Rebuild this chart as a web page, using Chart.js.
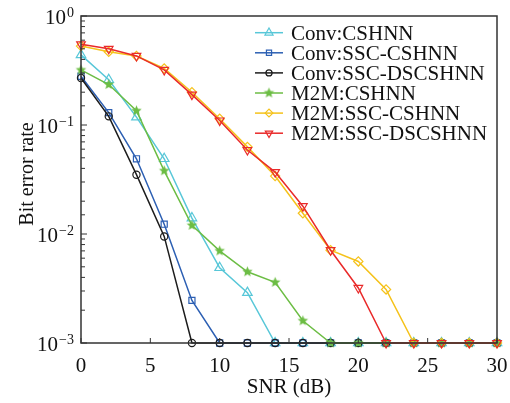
<!DOCTYPE html>
<html>
<head>
<meta charset="utf-8">
<script src="https://cdn.jsdelivr.net/npm/chart.js@4/dist/chart.umd.min.js"></script>
<style>
  html, body { margin: 0; padding: 0; background: #fff; }
  #wrap { width: 510px; height: 403px; }
  #probe { font-family: "Liberation Serif"; position: absolute; left: -999px; }
</style>
</head>
<body>
<div id="probe">10 SNR</div>
<div id="wrap"><canvas id="ber"></canvas></div>
<script>
// SNR (dB) points
const snr = [0, 2, 4, 6, 8, 10, 12, 14, 16, 18, 20, 22, 24, 26, 28, 30];

const convCshnn      = [0.44, 0.26, 0.118, 0.049, 0.014, 0.0049, 0.0029, 0.001, 0.001, 0.001, 0.001, 0.001, 0.001, 0.001, 0.001, 0.001];
const convSscCshnn   = [0.28, 0.13, 0.049, 0.0123, 0.00246, 0.001, 0.001, 0.001, 0.001, 0.001, 0.001, 0.001, 0.001, 0.001, 0.001, 0.001];
const convSscDscshnn = [0.27, 0.12, 0.035, 0.0095, 0.001, 0.001, 0.001, 0.001, 0.001, 0.001, 0.001, 0.001, 0.001, 0.001, 0.001, 0.001];
const m2mCshnn       = [0.32, 0.235, 0.135, 0.038, 0.012, 0.007, 0.0045, 0.0036, 0.0016, 0.001, 0.001, 0.001, 0.001, 0.001, 0.001, 0.001];
const m2mSscCshnn    = [0.53, 0.47, 0.43, 0.33, 0.2, 0.114, 0.063, 0.034, 0.0155, 0.0071, 0.0056, 0.0031, 0.001, 0.001, 0.001, 0.001];
const m2mSscDscshnn  = [0.55, 0.5, 0.43, 0.32, 0.19, 0.11, 0.059, 0.037, 0.018, 0.0071, 0.0032, 0.001, 0.001, 0.001, 0.001, 0.001];

const xTicks = [0, 5, 10, 15, 20, 25, 30];
const yTicks = [0, -1, -2, -3];   // exponents of 10

const FONT = '"Liberation Serif", serif';
const AXIS = '#333';

// filled star marker for the M2M:CSHNN curve
const makeStar = (color, r) => {
  const c = document.createElement('canvas');
  const s = Math.ceil(r * 2 + 2);
  c.width = s; c.height = s;
  const g = c.getContext('2d');
  g.beginPath();
  for (let i = 0; i < 10; i++) {
    const a = -Math.PI / 2 + i * Math.PI / 5;
    const rr = i % 2 === 0 ? r : r * 0.45;
    g.lineTo(s / 2 + rr * Math.cos(a), s / 2 + rr * Math.sin(a));
  }
  g.closePath();
  g.fillStyle = color;
  g.fill();
  return c;
};

const series = [
  { label: 'Conv:CSHNN',         data: convCshnn,      color: '#58c7d8', style: 'triangle', radius: 5.5, rotation: 0 },
  { label: 'Conv:SSC-CSHNN',     data: convSscCshnn,   color: '#2c5fb3', style: 'rect',     radius: 4.3, rotation: 0 },
  { label: 'Conv:SSC-DSCSHNN',   data: convSscDscshnn, color: '#1c1c1c', style: 'circle',   radius: 3.6, rotation: 0 },
  { label: 'M2M:CSHNN',          data: m2mCshnn,       color: '#6cbd44', style: makeStar('#6cbd44', 5.5), radius: 5, rotation: 0 },
  { label: 'M2M:SSC-CSHNN',      data: m2mSscCshnn,    color: '#f5c21b', style: 'rectRot',  radius: 4.6, rotation: 0 },
  { label: 'M2M:SSC-DSCSHNN',    data: m2mSscDscshnn,  color: '#e92a2a', style: 'triangle', radius: 5,   rotation: 180 }
];

const datasets = series.map((s, i) => ({
  label: s.label,
  data: snr.map((x, j) => ({ x, y: s.data[j] })),
  borderColor: s.color,
  borderWidth: 1.5,
  pointStyle: s.style,
  pointRadius: s.radius,
  pointRotation: s.rotation,
  pointBorderColor: s.color,
  pointBackgroundColor: 'rgba(0,0,0,0)',
  pointBorderWidth: 1.2,
  tension: 0,
  clip: false,
  order: series.length - i   // later curves on top
}));

const framePlugin = {
  id: 'frame',
  afterDraw(chart) {
    const { ctx, chartArea: a, scales: { x, y } } = chart;
    ctx.save();
    ctx.strokeStyle = AXIS;
    ctx.lineWidth = 1.5;
    ctx.strokeRect(a.left, a.top, a.right - a.left, a.bottom - a.top);

    // inward ticks
    ctx.lineWidth = 1;
    ctx.beginPath();
    xTicks.forEach(v => {
      const px = x.getPixelForValue(v);
      ctx.moveTo(px, a.bottom); ctx.lineTo(px, a.bottom - 5);
    });
    y.ticks.forEach(t => {
      const py = y.getPixelForValue(t.value);
      const m = t.value / Math.pow(10, Math.floor(Math.log10(t.value) + 1e-9));
      const len = Math.abs(m - 1) < 1e-6 ? 6 : 4;
      ctx.moveTo(a.left, py); ctx.lineTo(a.left + len, py);
    });
    ctx.stroke();

    // tick labels
    ctx.fillStyle = '#111';
    ctx.font = '21px ' + FONT;
    ctx.textAlign = 'center';
    ctx.textBaseline = 'alphabetic';
    xTicks.forEach(v => ctx.fillText(String(v), x.getPixelForValue(v), 372));

    yTicks.forEach(e => {
      const py = y.getPixelForValue(Math.pow(10, e));
      const exp = e === 0 ? '0' : '\u2212' + Math.abs(e);
      ctx.font = '14px ' + FONT;
      ctx.textAlign = 'right';
      const ew = ctx.measureText(exp).width;
      ctx.fillText(exp, 74, py + 1);
      ctx.font = '21px ' + FONT;
      ctx.fillText('10', 74 - ew - 1, py + 8);
    });

    // axis titles
    ctx.font = '21px ' + FONT;
    ctx.textAlign = 'center';
    ctx.fillText('SNR (dB)', (a.left + a.right) / 2, 393);
    ctx.save();
    ctx.translate(33, 174);
    ctx.rotate(-Math.PI / 2);
    ctx.font = '20px ' + FONT;
    ctx.fillText('Bit error rate', 0, 0);
    ctx.restore();

    // legend: line with marker, then label
    const helpers = Chart.helpers;
    series.forEach((s, i) => {
      const ry = 32.7 + i * 20.1;
      ctx.strokeStyle = s.color;
      ctx.lineWidth = 1.5;
      ctx.beginPath();
      ctx.moveTo(255, ry); ctx.lineTo(283, ry);
      ctx.stroke();
      ctx.fillStyle = 'rgba(0,0,0,0)';
      ctx.lineWidth = 1.2;
      helpers.drawPoint(ctx, { pointStyle: s.style, rotation: s.rotation, radius: s.radius * 0.85, borderWidth: 1.2 }, 269, ry);
      ctx.fillStyle = '#111';
      ctx.font = '21px ' + FONT;
      ctx.textAlign = 'left';
      ctx.fillText(s.label, 291, ry + 7);
    });
    ctx.restore();
  }
};

const draw = () => new Chart(document.getElementById('ber'), {
  type: 'line',
  data: { datasets },
  options: {
    responsive: true,
    maintainAspectRatio: false,
    animation: false,
    layout: { padding: { top: 16, right: 13, left: 0, bottom: 0 } },
    plugins: {
      legend: { display: false },
      tooltip: { enabled: false }
    },
    scales: {
      x: {
        type: 'linear',
        min: 0,
        max: 30,
        grid: { display: false },
        border: { display: false },
        ticks: { display: false, stepSize: 5 },
        afterFit: s => { s.height = 60; }
      },
      y: {
        type: 'logarithmic',
        min: 0.001,
        max: 1,
        grid: { display: false },
        border: { display: false },
        ticks: { display: false },
        afterFit: s => { s.width = 81; }
      }
    }
  },
  plugins: [framePlugin]
});

document.fonts.load('21px "Liberation Serif"').then(draw, draw);
</script>
</body>
</html>
